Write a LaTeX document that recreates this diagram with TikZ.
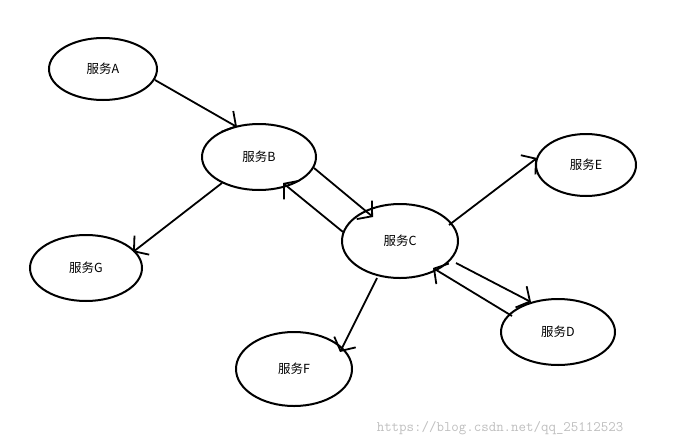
\documentclass[tikz,border=0pt]{standalone}
\usepackage{fontspec}
\newfontfamily\cjk{Noto Sans CJK SC}
\usetikzlibrary{arrows.meta,shapes.geometric}
\begin{document}
\begin{tikzpicture}[x=1pt,y=-1pt,
  svc/.style={draw,line width=2pt,ellipse,inner sep=0pt,font=\cjk\fontsize{12.5}{14}\selectfont},
  arr/.style={line width=1.8pt,-{Straight Barb[length=10pt,width=24pt,line width=1.8pt]}}]
\useasboundingbox[fill=white] (0,0) rectangle (676,447);
\node[svc,minimum width=108pt,minimum height=62pt] (a) at (103,69) {服务A};
\node[svc,minimum width=114pt,minimum height=66pt] (b) at (259,157) {服务B};
\node[svc,minimum width=116pt,minimum height=74pt] (c) at (400,241) {服务C};
\node[svc,minimum width=100pt,minimum height=62pt] (e) at (586,165) {服务E};
\node[svc,minimum width=112pt,minimum height=66pt] (g) at (86,268) {服务G};
\node[svc,minimum width=114pt,minimum height=66pt] (d) at (558,332) {服务D};
\node[svc,minimum width=116pt,minimum height=74pt] (f) at (294,369) {服务F};
\coordinate (a1) at (155,80); \coordinate (b1) at (237,127);
\coordinate (b2) at (222,183); \coordinate (g1) at (133,252);
\coordinate (b3) at (314,168); \coordinate (c1) at (373,217);
\coordinate (c2) at (343,232); \coordinate (b4) at (283,183);
\coordinate (c3) at (449,225); \coordinate (e1) at (537,158);
\coordinate (c4) at (377,278); \coordinate (f1) at (340,352);
\coordinate (c5) at (456,263); \coordinate (d1) at (531,302);
\coordinate (d2) at (512,316); \coordinate (c6) at (433,268);
\draw[arr] (a1) -- (b1);
\draw[arr] (b2) -- (g1);
\draw[arr] (b3) -- (c1);
\draw[arr] (c2) -- (b4);
\draw[arr] (c3) -- (e1);
\draw[arr] (c4) -- (f1);
\draw[arr] (c5) -- (d1);
\draw[arr] (d2) -- (c6);
\node[text=gray!50,font=\ttfamily\fontsize{14.5}{16}\selectfont] (w) at (500,428) {https://blog.csdn.net/qq\_25112523};
\end{tikzpicture}
\end{document}
